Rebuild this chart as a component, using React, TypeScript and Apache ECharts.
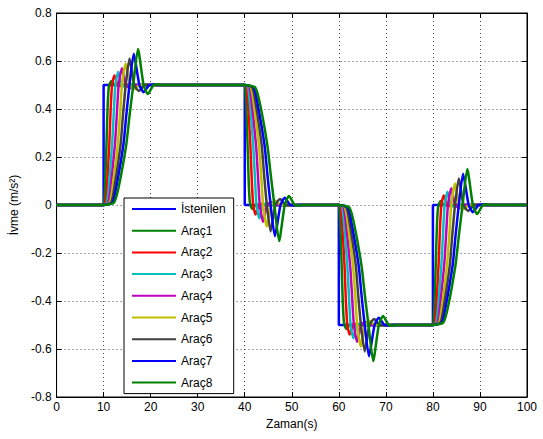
import React, { useEffect, useRef } from "react";
import * as echarts from "echarts";

// Desired acceleration (step profile)
const desiredX = [0, 10, 10, 40, 40, 60, 60, 80, 80, 100];
const desiredY = [0, 0, 0.5, 0.5, 0, 0, -0.5, -0.5, 0, 0];

// Step instants and sizes of the desired profile
const stepTimes = [10, 40, 60, 80];
const stepDeltas = [0.5, -0.5, -0.5, 0.5];

// Read step responses of each vehicle: [time after step, fraction of step]
const arac1Response = [[0, 0], [0.1, 0.02], [0.3, 0.15], [0.6, 0.5], [0.85, 0.82], [1.1, 0.98], [1.6, 1.034], [2.3, 1.0], [3.1, 0.995], [4.2, 1.0]];
const arac2Response = [[0, 0], [0.4, 0.02], [0.7, 0.15], [1.2, 0.5], [1.5, 0.8], [1.8, 1.0], [2.3, 1.08], [3.0, 1.0], [3.9, 0.99], [5.0, 1.0]];
const arac3Response = [[0, 0], [0.7, 0.02], [1.1, 0.15], [1.8, 0.5], [2.2, 0.8], [2.5, 1.0], [3.1, 1.11], [3.8, 1.0], [4.7, 0.985], [5.9, 1.0]];
const arac4Response = [[0, 0], [1.0, 0.02], [1.5, 0.15], [2.4, 0.5], [2.8, 0.75], [3.2, 1.0], [3.9, 1.14], [4.7, 1.0], [5.6, 0.975], [6.8, 1.0]];
const arac5Response = [[0, 0], [1.3, 0.02], [1.9, 0.15], [3.0, 0.5], [3.5, 0.76], [3.9, 1.0], [4.7, 1.18], [5.6, 1.0], [6.5, 0.965], [7.7, 1.0]];
const arac6Response = [[0, 0], [1.6, 0.02], [2.3, 0.15], [3.6, 0.5], [4.1, 0.74], [4.7, 1.0], [5.5, 1.22], [6.5, 1.0], [7.5, 0.95], [8.7, 1.0], [9.6, 1.002], [10.5, 1.0]];
const arac7Response = [[0, 0], [1.9, 0.02], [2.7, 0.15], [4.2, 0.5], [4.8, 0.74], [5.5, 1.0], [6.4, 1.26], [7.6, 1.0], [8.5, 0.94], [9.7, 1.0], [10.6, 1.004], [11.5, 1.0]];
const arac8Response = [[0, 0], [2.2, 0.02], [3.2, 0.15], [4.8, 0.5], [5.5, 0.74], [6.3, 1.0], [7.3, 1.3], [8.5, 1.0], [9.4, 0.925], [10.6, 1.0], [11.5, 1.005], [12.5, 1.0]];

const seriesNames = ["İstenilen", "Araç1", "Araç2", "Araç3", "Araç4", "Araç5", "Araç6", "Araç7", "Araç8"];
const seriesColors = ["#0000FF", "#008000", "#FF0000", "#00BFBF", "#BF00BF", "#BFBF00", "#404040", "#0000FF", "#008000"];
const vehicleResponses = [arac1Response, arac2Response, arac3Response, arac4Response, arac5Response, arac6Response, arac7Response, arac8Response];

function buildVehicle(resp: number[][]): number[][] {
  const pts: number[][] = [[0, 0]];
  let level = 0;
  stepTimes.forEach((t, i) => {
    const d = stepDeltas[i];
    resp.forEach(([dt, r]) => pts.push([t + dt, level + d * r]));
    level += d;
  });
  pts.push([100, level]);
  return pts;
}

export default function App() {
  const ref = useRef<HTMLDivElement>(null);
  useEffect(() => {
    if (!ref.current) return;
    const chart = echarts.init(ref.current, null, { renderer: "svg" });
    const font = "Liberation Sans, Arial, sans-serif";
    const gridLine = { show: true, lineStyle: { color: "#444", type: [1, 3], width: 1 } };
    const allData = [desiredX.map((x, i) => [x, desiredY[i]]), ...vehicleResponses.map(buildVehicle)];
    const series = allData.map((d, i) => ({
      name: seriesNames[i],
      type: "line",
      data: d,
      symbol: "none",
      showSymbol: false,
      smooth: i === 0 ? false : 0.2,
      color: seriesColors[i],
      lineStyle: { color: seriesColors[i], width: 2.5 },
      xAxisIndex: 0,
      yAxisIndex: 0,
      z: 2 + i,
    }));
    chart.setOption({
      animation: false,
      backgroundColor: "#fff",
      grid: { left: 56, top: 13, width: 471, height: 384, show: true, borderColor: "#000", borderWidth: 1, backgroundColor: "transparent" },
      legend: {
        show: true,
        orient: "vertical",
        left: 124,
        top: 198,
        data: seriesNames,
        icon: "rect",
        itemWidth: 44,
        itemHeight: 2,
        itemGap: 7.7,
        padding: [4, 8, 4, 8],
        backgroundColor: "#fff",
        borderColor: "#000",
        borderWidth: 1,
        borderRadius: 0,
        textStyle: { fontFamily: font, fontSize: 12, color: "#000", lineHeight: 14 },
        z: 20,
      },
      xAxis: [
        {
          type: "value",
          min: 0,
          max: 100,
          interval: 10,
          name: "Zaman(s)",
          nameLocation: "middle",
          nameGap: 15,
          nameTextStyle: { fontFamily: font, fontSize: 12, color: "#000" },
          axisLine: { show: true, onZero: false, lineStyle: { color: "#000", width: 1 } },
          axisTick: { show: true, inside: true, length: 5, lineStyle: { color: "#000" } },
          axisLabel: { fontFamily: font, fontSize: 12, color: "#000", margin: 4, formatter: (v: number) => String(Math.round(v)) },
          splitLine: gridLine,
        },
        {
          type: "value",
          position: "top",
          min: 0,
          max: 100,
          interval: 10,
          axisLine: { show: true, onZero: false, lineStyle: { color: "#000", width: 1 } },
          axisTick: { show: true, inside: true, length: 5, lineStyle: { color: "#000" } },
          axisLabel: { show: false },
          splitLine: { show: false },
        },
      ],
      yAxis: [
        {
          type: "value",
          min: -0.8,
          max: 0.8,
          interval: 0.2,
          name: "İvme (m/s²)",
          nameLocation: "middle",
          nameGap: 33,
          nameTextStyle: { fontFamily: font, fontSize: 12, color: "#000" },
          axisLine: { show: true, onZero: false, lineStyle: { color: "#000", width: 1 } },
          axisTick: { show: true, inside: true, length: 5, lineStyle: { color: "#000" } },
          axisLabel: { fontFamily: font, fontSize: 12, color: "#000", margin: 5, formatter: (v: number) => String(Math.round(v * 10) / 10) },
          splitLine: gridLine,
        },
        {
          type: "value",
          position: "right",
          min: -0.8,
          max: 0.8,
          interval: 0.2,
          axisLine: { show: true, onZero: false, lineStyle: { color: "#000", width: 1 } },
          axisTick: { show: true, inside: true, length: 5, lineStyle: { color: "#000" } },
          axisLabel: { show: false },
          splitLine: { show: false },
        },
      ],
      series,
    });
    return () => chart.dispose();
  }, []);
  return <div ref={ref} style={{ position: "absolute", left: 0, top: 0, width: 543, height: 439 }} />;
}
